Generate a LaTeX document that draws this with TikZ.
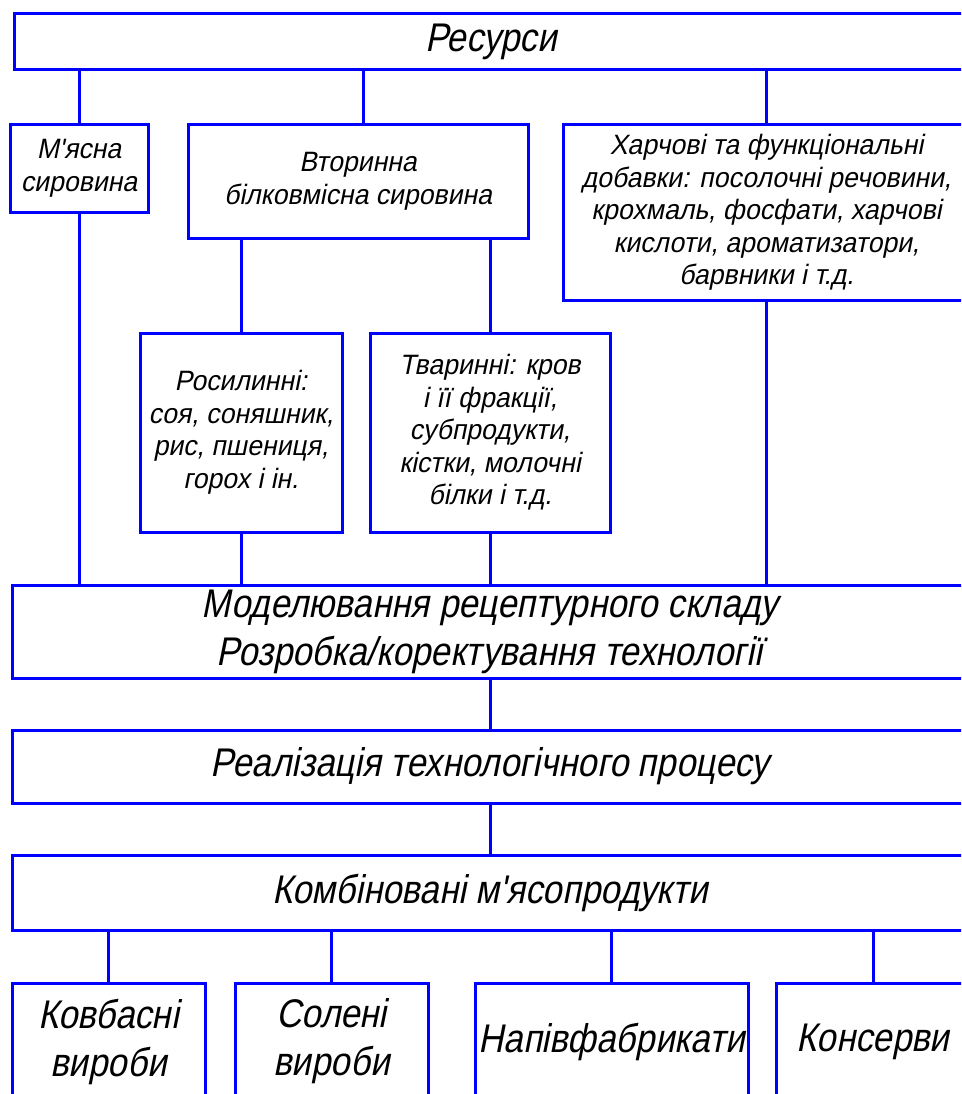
\documentclass[tikz,border=0pt]{standalone}
\usepackage{fontspec}
\newfontfamily\gost{Liberation Sans}[FakeStretch=0.87,FakeSlant=0.2]
\newfontfamily\gostsm{Liberation Sans}[FakeStretch=0.95,FakeSlant=0.2]
\begin{document}
\begin{tikzpicture}[x=1pt,y=-1pt,
  box/.style={draw={rgb,255:red,0;green,0;blue,255},line width=3pt,align=center,inner sep=0pt,anchor=center},
  conn/.style={draw={rgb,255:red,0;green,0;blue,255},line width=3pt},
  big/.style={font=\gost\fontsize{40}{48}\selectfont},
  small/.style={font=\gostsm\fontsize{28}{32.5}\selectfont}]
\clip (0,0) rectangle (961,1094);
\fill[white] (0,0) rectangle (961,1094);
\node[box,big,minimum width=954,minimum height=56] (res) at (491,42) {Ресурси};
\node[box,small,minimum width=138,minimum height=87] (myas) at (79,168.5) {М'ясна\\сировина};
\node[box,small,minimum width=340,minimum height=113] (vtor) at (358,181.5) {Вторинна\\білковмісна сировина};
\node[box,small,minimum width=407,minimum height=175] (harch) at (766.5,212.5) {Харчові та функціональні\\добавки: посолочні речовини,\\крохмаль, фосфати, харчові\\кислоти, ароматизатори,\\барвники і т.д.};
\node[box,small,minimum width=202,minimum height=199] (rosl) at (241,432.5) {Росилинні:\\соя, соняшник,\\рис, пшениця,\\горох і ін.};
\node[box,small,minimum width=240,minimum height=199] (tvar) at (490,432.5) {Тваринні: кров\\і її фракції,\\субпродукти,\\кістки, молочні\\білки і т.д.};
\node[box,big,minimum width=956,minimum height=93] (model) at (490,631.5) {Моделювання рецептурного складу\\Розробка/коректування технології};
\node[box,big,minimum width=956,minimum height=73] (real) at (490,766.5) {Реалізація технологічного процесу};
\node[box,big,minimum width=956,minimum height=75] (komb) at (490,892.5) {Комбіновані м'ясопродукти};
\node[box,big,minimum width=193,minimum height=117] (kovb) at (108.5,1041.5) {Ковбасні\\вироби};
\node[box,big,minimum width=193,minimum height=117] (sol) at (331.5,1041.5) {Солені\\вироби};
\node[box,big,minimum width=273,minimum height=117] (napiv) at (611.5,1041.5) {Напівфабрикати};
\node[box,big,minimum width=194,minimum height=117] (kons) at (873,1041.5) {Консерви};
\draw[conn] (myas.north) -- (myas.north |- res.south);
\draw[conn] ([xshift=5pt]vtor.north) -- ([xshift=5pt]vtor.north |- res.south);
\draw[conn] (harch.north) -- (harch.north |- res.south);
\draw[conn] (rosl.north) -- (rosl.north |- vtor.south);
\draw[conn] (tvar.north) -- (tvar.north |- vtor.south);
\draw[conn] (myas.south) -- (myas.south |- model.north);
\draw[conn] (rosl.south) -- (rosl.south |- model.north);
\draw[conn] (tvar.south) -- (tvar.south |- model.north);
\draw[conn] (harch.south) -- (harch.south |- model.north);
\draw[conn] (model.south) -- (real.north);
\draw[conn] (real.south) -- (komb.north);
\draw[conn] (kovb.north) -- (kovb.north |- komb.south);
\draw[conn] (sol.north) -- (sol.north |- komb.south);
\draw[conn] (napiv.north) -- (napiv.north |- komb.south);
\draw[conn] (kons.north) -- (kons.north |- komb.south);
\end{tikzpicture}
\end{document}
